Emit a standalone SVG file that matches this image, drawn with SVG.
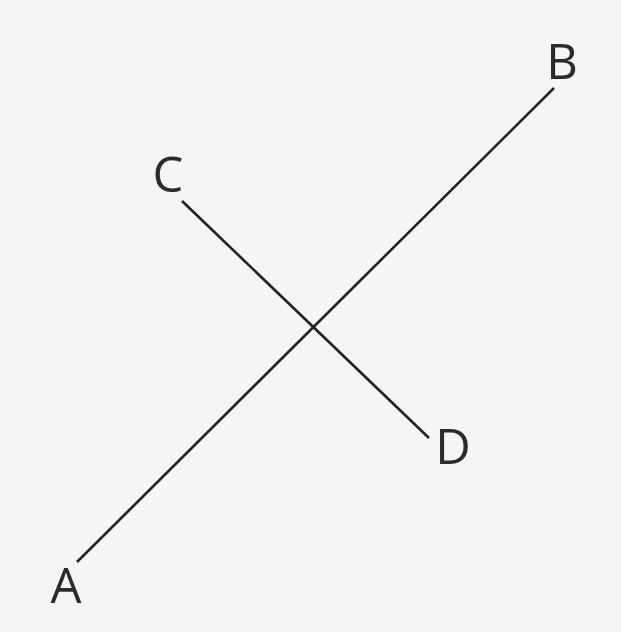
<svg xmlns="http://www.w3.org/2000/svg" width="621" height="632" viewBox="0 0 621 632">
<style>
.lbl{font-family:"Open Sans","Noto Sans",sans-serif;font-size:49px;fill:#2b2b2b;text-anchor:middle}
.ln{stroke:#222;stroke-width:2.6;stroke-linecap:butt;fill:none}
</style>
<rect width="621" height="632" fill="#f4f6f6"/>
<g id="connectors">
<line class="ln" x1="77" y1="562" x2="554" y2="88"/>
<line class="ln" x1="182" y1="201" x2="429" y2="438"/>
</g>
<g id="A"><text class="lbl" x="66" y="603">A</text></g>
<g id="B"><text class="lbl" x="562" y="79">B</text></g>
<g id="C"><text class="lbl" x="168" y="192">C</text></g>
<g id="D"><text class="lbl" x="453" y="464">D</text></g>
</svg>
